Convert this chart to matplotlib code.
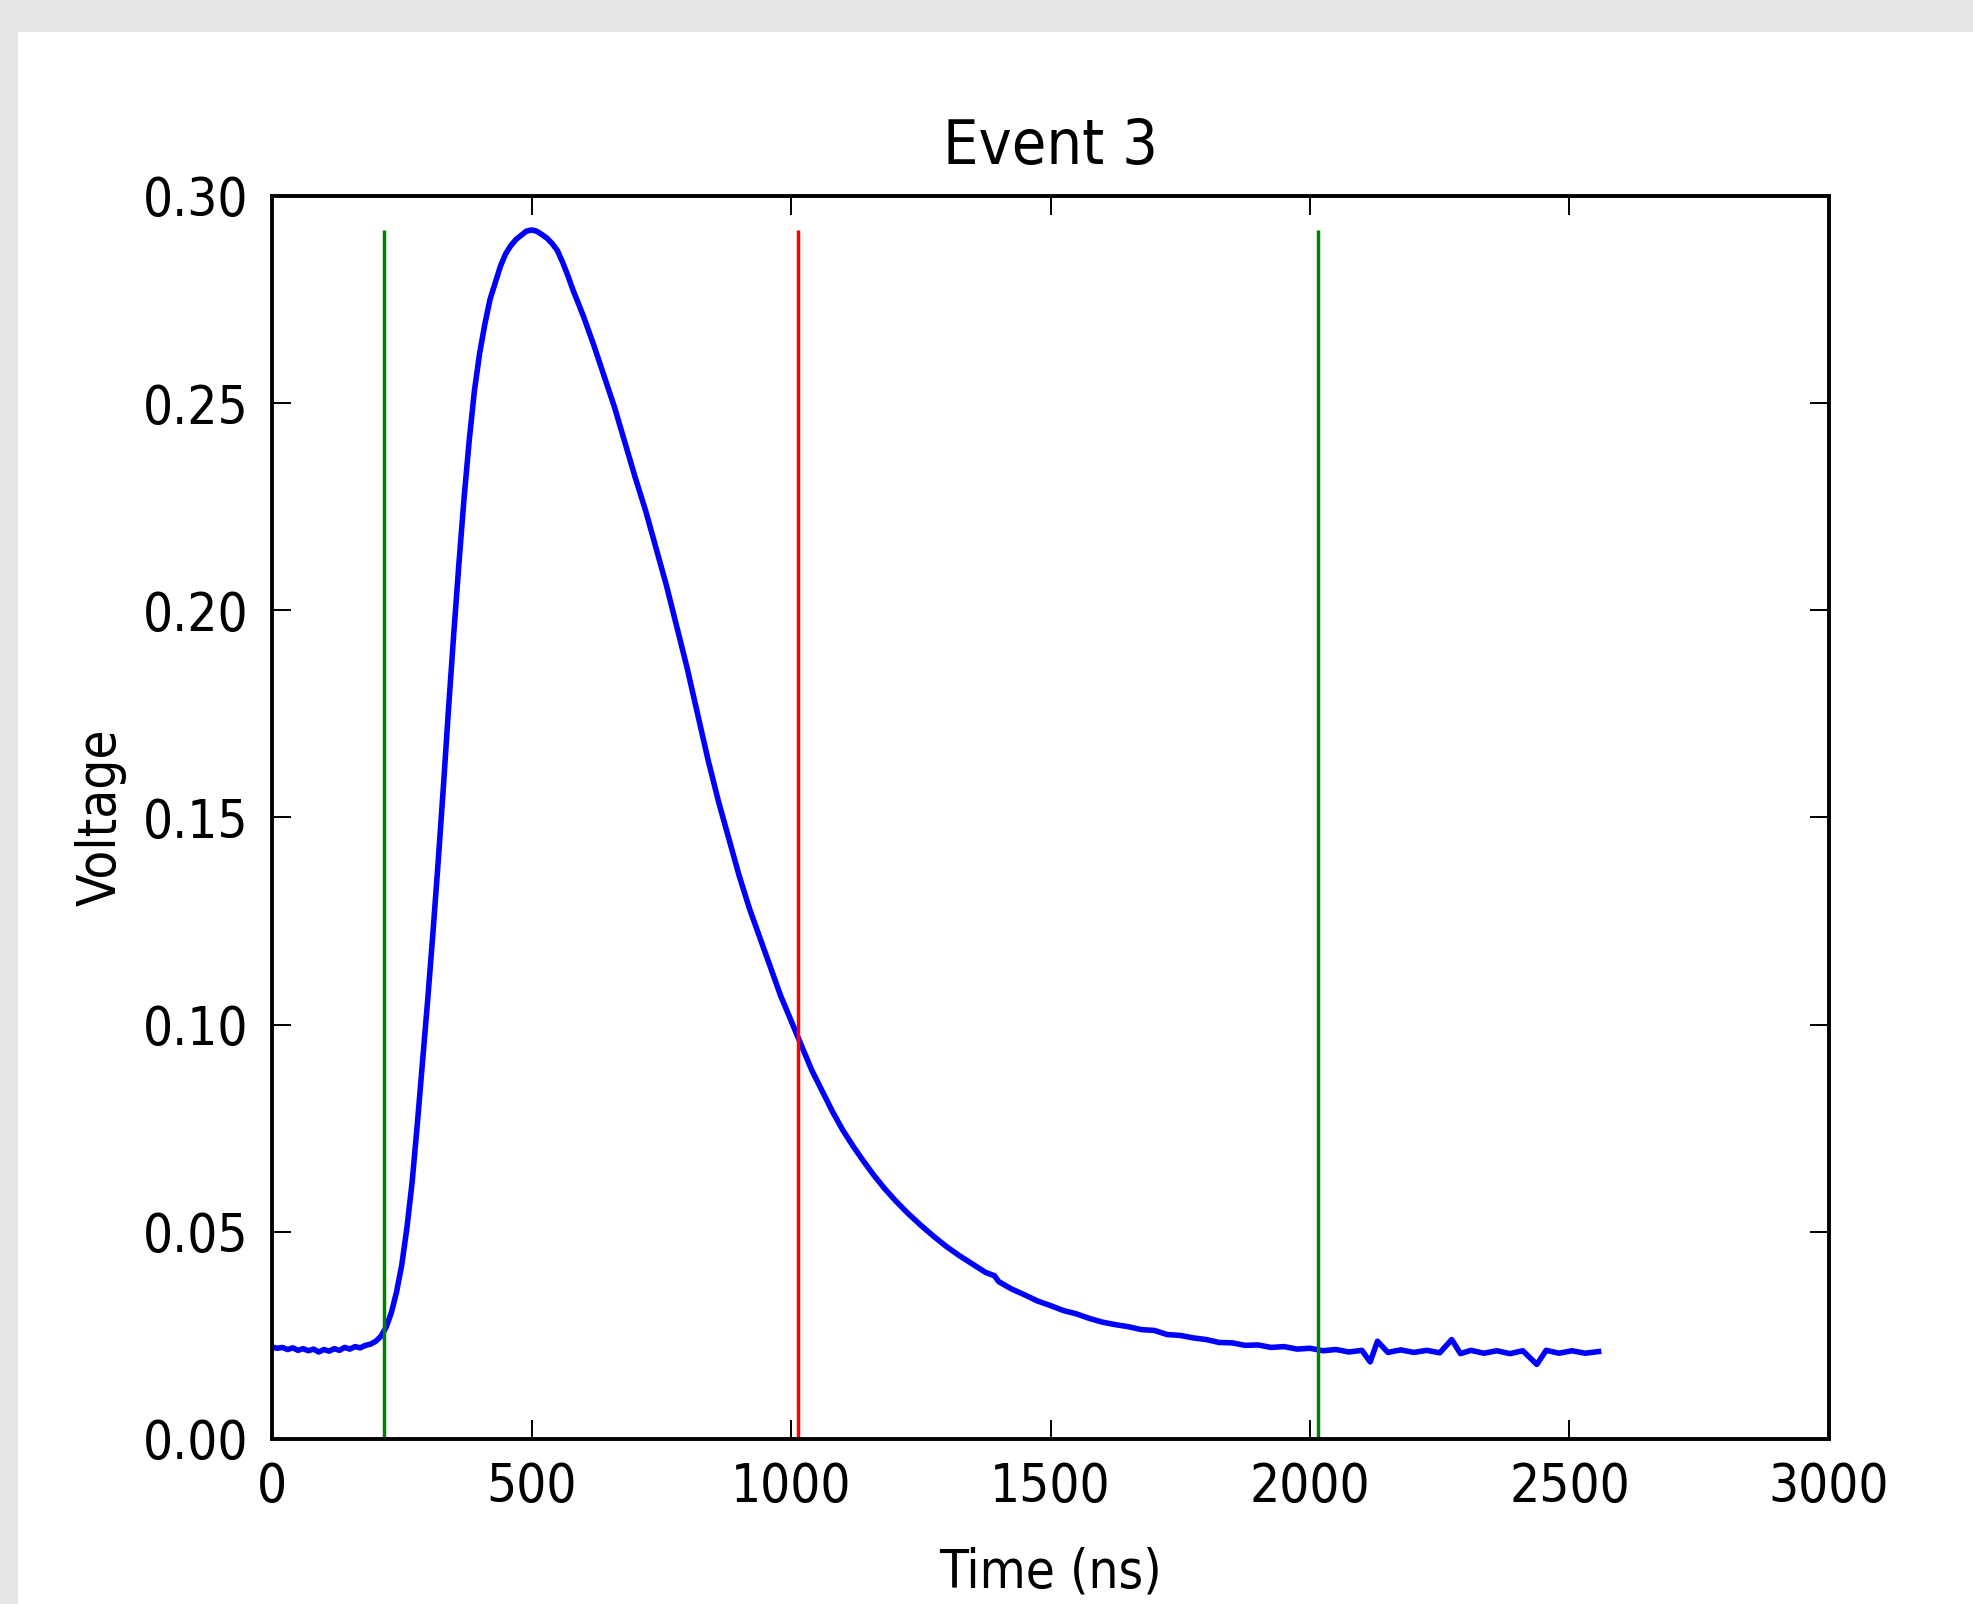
# Imports
import matplotlib
matplotlib.use('Agg')
import matplotlib.pyplot as plt
from matplotlib.patches import Rectangle

# Waveform (time in ns, voltage in V), in three pieces.
# Baseline before the pulse.
base_t = [0, 10, 20, 30, 40, 50, 60, 70, 80, 90, 100, 110, 120, 130, 140,
          150, 160, 170, 180, 190]
base_v = [0.0222, 0.0219, 0.0221, 0.0216, 0.0220, 0.0214, 0.0218, 0.0213,
          0.0217, 0.0210, 0.0216, 0.0212, 0.0218, 0.0214, 0.0221, 0.0217,
          0.0223, 0.0220, 0.0226, 0.0229]
# Pulse rise, peak and main decay.
pulse_t = [200, 210, 220, 230, 240, 250, 260, 270, 280, 290, 300, 310, 320,
           330, 340, 350, 360, 370, 380, 390, 400, 410, 420, 430, 440, 450,
           460, 470, 480, 490, 500, 510, 520, 530, 540, 550, 560, 570, 580,
           600, 620, 640, 660, 680, 700, 720, 740, 760, 780, 800, 820, 840,
           860, 880, 900, 920, 940, 960, 980, 1000, 1020, 1040, 1060, 1080,
           1100, 1120, 1140, 1160, 1180]
pulse_v = [0.0236, 0.0248, 0.0270, 0.0305, 0.0355, 0.0420, 0.0510, 0.0620,
           0.0760, 0.0910, 0.1060, 0.1220, 0.1390, 0.1570, 0.1760, 0.1940,
           0.2110, 0.2270, 0.2410, 0.2530, 0.2620, 0.2690, 0.2750, 0.2790,
           0.2830, 0.2860, 0.2880, 0.2895, 0.2905, 0.2915, 0.2918, 0.2915,
           0.2907, 0.2898, 0.2885, 0.2868, 0.2840, 0.2808, 0.2773, 0.2710,
           0.2640, 0.2565, 0.2490, 0.2405, 0.2320, 0.2240, 0.2150, 0.2060,
           0.1960, 0.1860, 0.1750, 0.1640, 0.1540, 0.1450, 0.1360, 0.1280,
           0.1210, 0.1140, 0.1070, 0.1010, 0.0950, 0.0890, 0.0840, 0.0790,
           0.0745, 0.0706, 0.0670, 0.0636, 0.0605]
# Slow tail.
tail_t = [1200, 1225, 1250, 1275, 1300, 1325, 1350, 1375, 1392, 1400, 1425,
          1450, 1475, 1500, 1525, 1550, 1575, 1600, 1625, 1650, 1675, 1700,
          1725, 1750, 1775, 1800, 1825, 1850, 1875, 1900, 1925, 1950, 1975,
          2000, 2025, 2050, 2075, 2100, 2116, 2130, 2150, 2175, 2200, 2225,
          2250, 2273, 2290, 2310, 2335, 2360, 2385, 2410, 2437, 2455, 2480,
          2505, 2530, 2556]
tail_v = [0.0577, 0.0545, 0.0516, 0.0489, 0.0464, 0.0442, 0.0422, 0.0402,
          0.0394, 0.0380, 0.0362, 0.0348, 0.0333, 0.0322, 0.0310, 0.0302,
          0.0291, 0.0282, 0.0276, 0.0271, 0.0264, 0.0262, 0.0252, 0.0250,
          0.0244, 0.0240, 0.0233, 0.0232, 0.0226, 0.0227, 0.0221, 0.0223,
          0.0217, 0.0219, 0.0213, 0.0216, 0.0210, 0.0214, 0.0186, 0.0236,
          0.0209, 0.0215, 0.0209, 0.0214, 0.0208, 0.0240, 0.0206, 0.0214,
          0.0207, 0.0213, 0.0206, 0.0213, 0.0180, 0.0214, 0.0207, 0.0213,
          0.0207, 0.0211]

time_ns = base_t + pulse_t + tail_t
voltage = base_v + pulse_v + tail_v

# Integration window markers (green) and split point (red).
window_edges = [216, 2016]
split_time = 1014

plt.rcParams['font.family'] = 'DejaVu Sans'
plt.rcParams['font.stretch'] = 'condensed'
plt.rcParams['font.size'] = 38

fig = plt.figure(figsize=(19.73, 16.04), dpi=100, facecolor='#e5e5e5')
# White canvas inside the grey border.
fig.patches.append(Rectangle((18 / 1973, 0), 1, 1 - 32 / 1604, transform=fig.transFigure,
                             facecolor='white', edgecolor='none', zorder=-10))

ax = fig.add_axes([272 / 1973, 1 - 1439 / 1604, 1557 / 1973, 1243 / 1604])
ax.plot(time_ns, voltage, color='b', linewidth=4.0)
ax.vlines(window_edges, 0, max(voltage), color='g', linewidth=2.5)
ax.vlines(split_time, 0, max(voltage), color='r', linewidth=2.5)

ax.set_xlim(0, 3000)
ax.set_ylim(0, 0.30)
ax.set_xticks([0, 500, 1000, 1500, 2000, 2500, 3000])
ax.set_yticks([0.00, 0.05, 0.10, 0.15, 0.20, 0.25, 0.30])
ax.yaxis.set_major_formatter(plt.FormatStrFormatter('%.2f'))

for spine in ax.spines.values():
    spine.set_linewidth(2.8)
ax.tick_params(axis='both', direction='in', top=True, right=True, length=14, width=1.4)
ax.tick_params(axis='x', pad=16)
ax.tick_params(axis='y', pad=17)

# Labels and title.
ax.set_xlabel('Time (ns)')
ax.set_ylabel('Voltage')
ax.xaxis.set_label_coords(0.5, -0.107)
ax.xaxis.label.set_va('center')
ax.yaxis.set_label_coords(-0.110, 0.5)
ax.yaxis.label.set_va('center')
ax.text(0.5, 1 + 49 / 1243, 'Event 3', transform=ax.transAxes, ha='center', va='center',
        fontsize=45)

fig.savefig('out.png', dpi=100, facecolor=fig.get_facecolor())
